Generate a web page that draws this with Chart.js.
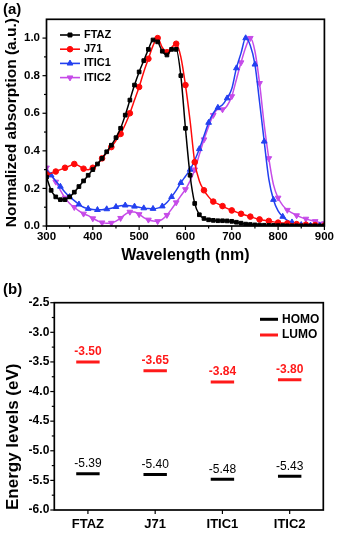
<!DOCTYPE html>
<html>
<head>
<meta charset="utf-8">
<title>Absorption spectra and energy levels</title>
<script src="https://cdn.jsdelivr.net/npm/chart.js@4.4.1/dist/chart.umd.min.js"></script>
<style>
  html, body { margin: 0; padding: 0; background: #fff; }
  body { width: 338px; height: 537px; overflow: hidden; }
  canvas { display: block; }
</style>
</head>
<body>
<canvas id="spectra" width="338" height="270"></canvas>
<canvas id="levels" width="338" height="267"></canvas>
<script>
const FONT = '"Liberation Sans", Arial, sans-serif';
Chart.defaults.font.family = FONT;
Chart.defaults.color = '#000';

// normalized absorption, sampled every 10 nm
const wavelengths = [300, 310, 320, 330, 340, 350, 360, 370, 380, 390,
  400, 410, 420, 430, 440, 450, 460, 470, 480, 490,
  500, 510, 520, 530, 540, 550, 560, 570, 580, 590,
  600, 610, 620, 630, 640, 650, 660, 670, 680, 690,
  700, 710, 720, 730, 740, 750, 760, 770, 780, 790,
  800, 810, 820, 830, 840, 850, 860, 870, 880, 890, 900];
const ftaz = [0.26, 0.19, 0.155, 0.14, 0.14, 0.155, 0.18, 0.21, 0.24, 0.27,
  0.30, 0.33, 0.36, 0.395, 0.43, 0.47, 0.52, 0.59, 0.67, 0.75,
  0.82, 0.88, 0.94, 0.99, 0.98, 0.93, 0.91, 0.94, 0.94, 0.80,
  0.52, 0.27, 0.12, 0.06, 0.04, 0.033, 0.03, 0.028, 0.028, 0.027,
  0.025, 0.02, 0.015, 0.01, 0.008, 0.006, 0.005, 0.004, 0.003, 0.003,
  0.002, 0.002, 0.001, 0.001, 0.001, 0.001, 0.001, 0.001, 0.001, 0.001, 0.001];
const j71 = [0.275, 0.28, 0.29, 0.30, 0.31, 0.32, 0.33, 0.32, 0.305, 0.30,
  0.31, 0.33, 0.36, 0.39, 0.42, 0.455, 0.49, 0.54, 0.60, 0.67,
  0.74, 0.82, 0.89, 0.96, 1.0, 0.95, 0.925, 0.95, 0.97, 0.90,
  0.75, 0.56, 0.34, 0.24, 0.19, 0.155, 0.13, 0.118, 0.106, 0.094,
  0.083, 0.074, 0.065, 0.057, 0.05, 0.042, 0.035, 0.031, 0.027, 0.022,
  0.018, 0.016, 0.014, 0.012, 0.01, 0.009, 0.007, 0.006, 0.005, 0.004, 0.003];
const itic1 = [0.30, 0.27, 0.24, 0.21, 0.18, 0.155, 0.135, 0.115, 0.10, 0.092,
  0.088, 0.086, 0.087, 0.09, 0.095, 0.102, 0.108, 0.11, 0.108, 0.104,
  0.10, 0.095, 0.093, 0.092, 0.095, 0.105, 0.125, 0.155, 0.19, 0.23,
  0.265, 0.30, 0.35, 0.41, 0.48, 0.55, 0.60, 0.63, 0.645, 0.68,
  0.73, 0.84, 0.92, 1.0, 0.96, 0.86, 0.66, 0.45, 0.25, 0.14,
  0.08, 0.05, 0.03, 0.02, 0.012, 0.006, 0.004, 0.003, 0.002, 0.002, 0.002];
const itic2 = [0.31, 0.27, 0.235, 0.19, 0.15, 0.12, 0.10, 0.08, 0.065, 0.055,
  0.04, 0.028, 0.018, 0.014, 0.016, 0.026, 0.042, 0.062, 0.075, 0.074,
  0.062, 0.045, 0.033, 0.027, 0.025, 0.035, 0.058, 0.09, 0.125, 0.16,
  0.195, 0.24, 0.30, 0.38, 0.46, 0.53, 0.59, 0.62, 0.62, 0.64,
  0.69, 0.78, 0.87, 0.95, 1.0, 0.93, 0.76, 0.54, 0.36, 0.22,
  0.15, 0.11, 0.085, 0.07, 0.056, 0.046, 0.038, 0.031, 0.025, 0.019, 0.014];

// frontier orbital energies (eV)
const materials = ['FTAZ', 'J71', 'ITIC1', 'ITIC2'];
const homo = [-5.39, -5.40, -5.48, -5.43];
const lumo = [-3.50, -3.65, -3.84, -3.80];

const toPoints = vals => wavelengths.map((w, i) => ({ x: w, y: vals[i] }));
// markers only on every other sample
const alternate = (first, r) => c => (c.dataIndex % 2 === first ? r : 0);

// closed frame with outward major/minor ticks and the panel letter
const boxAxes = {
  id: 'boxAxes',
  afterDraw(chart, args, opts) {
    const ctx = chart.ctx, a = chart.chartArea;
    ctx.save();
    ctx.strokeStyle = '#000';
    ctx.lineWidth = 1.2;
    const mark = (scale, v, len) => {
      const p = scale.getPixelForValue(v);
      ctx.beginPath();
      if (scale.isHorizontal()) { ctx.moveTo(p, a.bottom); ctx.lineTo(p, a.bottom + len); }
      else { ctx.moveTo(a.left, p); ctx.lineTo(a.left - len, p); }
      ctx.stroke();
    };
    const ticks = (scale, minor) => {
      const vals = scale.ticks.map(t => t.value);
      vals.forEach(v => mark(scale, v, 4));
      if (minor) {
        for (let i = 0; i < vals.length - 1; i++) mark(scale, (vals[i] + vals[i + 1]) / 2, 2.5);
      }
    };
    ticks(chart.scales.x, opts.minorX);
    ticks(chart.scales.y, true);
    ctx.lineWidth = 1.7;
    ctx.strokeRect(a.left, a.top, a.right - a.left, a.bottom - a.top);
    ctx.fillStyle = '#000';
    ctx.font = 'bold 15px ' + FONT;
    ctx.textAlign = 'left';
    ctx.textBaseline = 'middle';
    ctx.fillText(opts.tag, 3, opts.tagY);
    ctx.restore();
  }
};

// key drawn inside the plot box
const seriesKey = {
  id: 'seriesKey',
  afterDraw(chart, args, opts) {
    const ctx = chart.ctx;
    ctx.save();
    ctx.textAlign = 'left';
    ctx.textBaseline = 'middle';
    ctx.font = 'bold ' + opts.size + 'px ' + FONT;
    chart.data.datasets.forEach((ds, i) => {
      const y = opts.top + i * opts.gap;
      const x0 = opts.left, x1 = opts.left + opts.len;
      ctx.strokeStyle = ds.borderColor;
      ctx.fillStyle = ds.borderColor;
      ctx.lineWidth = opts.lineWidth;
      ctx.beginPath();
      ctx.moveTo(x0, y);
      ctx.lineTo(x1, y);
      ctx.stroke();
      if (ds.keyRadius) {
        ctx.lineWidth = 1;
        Chart.helpers.drawPoint(ctx, {
          pointStyle: ds.pointStyle, rotation: ds.pointRotation || 0,
          radius: ds.keyRadius, borderWidth: 1
        }, (x0 + x1) / 2, y);
      }
      ctx.fillStyle = '#000';
      ctx.fillText(ds.label, x1 + 4, y);
    });
    ctx.restore();
  }
};

// numeric value above each level
const levelLabels = {
  id: 'levelLabels',
  afterDatasetsDraw(chart) {
    const ctx = chart.ctx;
    ctx.save();
    ctx.textAlign = 'center';
    ctx.textBaseline = 'middle';
    chart.data.datasets.forEach((ds, i) => {
      ctx.fillStyle = ds.borderColor;
      ctx.font = ds.labelWeight + ' 12px ' + FONT;
      chart.getDatasetMeta(i).data.forEach((pt, j) => {
        ctx.fillText(ds.data[j].toFixed(2), pt.x, pt.y - 10);
      });
    });
    ctx.restore();
  }
};

const bare = { display: false, drawTicks: false };

new Chart(document.getElementById('spectra'), {
  type: 'line',
  data: {
    datasets: [
      { label: 'FTAZ', data: toPoints(ftaz), borderColor: '#000000', backgroundColor: '#000000',
        pointStyle: 'rect', pointRadius: 2.6, keyRadius: 2.8 },
      { label: 'J71', data: toPoints(j71), borderColor: '#FF0A0A', backgroundColor: '#FF0A0A',
        pointStyle: 'circle', pointRadius: alternate(0, 2.8), keyRadius: 2.8 },
      { label: 'ITIC1', data: toPoints(itic1), borderColor: '#2340F0', backgroundColor: '#2340F0',
        pointStyle: 'triangle', pointRadius: alternate(1, 3.3), keyRadius: 3.3 },
      { label: 'ITIC2', data: toPoints(itic2), borderColor: '#C64BE8', backgroundColor: '#C64BE8',
        pointStyle: 'triangle', pointRotation: 180, pointRadius: alternate(0, 3.3), keyRadius: 3.3 }
    ]
  },
  options: {
    responsive: false,
    animation: false,
    events: [],
    layout: { padding: { top: 19.3, right: 13.5, left: 0, bottom: 0 } },
    elements: {
      line: { borderWidth: 1.5, cubicInterpolationMode: 'monotone' },
      point: { borderWidth: 1, hoverRadius: 0 }
    },
    scales: {
      x: {
        type: 'linear', min: 300, max: 900,
        afterFit: s => { s.height = 44; },
        grid: bare, border: { display: false },
        ticks: { stepSize: 100, padding: 4, maxRotation: 0, font: { size: 11.5, weight: 'bold' } },
        title: { display: true, text: 'Wavelength (nm)', font: { size: 16, weight: 'bold' },
                 padding: { top: 0, bottom: 5 } }
      },
      y: {
        min: 0, max: 1.1,
        afterFit: s => { s.width = 46.5; },
        grid: bare, border: { display: false },
        ticks: { stepSize: 0.2, includeBounds: false, padding: 6.5,
                 callback: v => v.toFixed(1), font: { size: 11.5, weight: 'bold' } },
        title: { display: true, text: 'Normalized absorption (a.u.)', font: { size: 15.5, weight: 'bold' },
                 padding: { top: 2, bottom: 0 } }
      }
    },
    plugins: {
      legend: { display: false },
      tooltip: { enabled: false },
      boxAxes: { tag: '(a)', tagY: 10, minorX: true },
      seriesKey: { left: 60, len: 20, top: 35, gap: 14.2, size: 11, lineWidth: 1.6 }
    }
  },
  plugins: [boxAxes, seriesKey]
});

new Chart(document.getElementById('levels'), {
  type: 'line',
  data: {
    labels: materials,
    datasets: [
      { label: 'HOMO', data: homo, borderColor: '#000000', backgroundColor: '#000000',
        showLine: false, labelWeight: 'normal' },
      { label: 'LUMO', data: lumo, borderColor: '#FF1A1A', backgroundColor: '#FF1A1A',
        showLine: false, labelWeight: 'bold' }
    ]
  },
  options: {
    responsive: false,
    animation: false,
    events: [],
    layout: { padding: { top: 32.7, right: 4.7, left: 0, bottom: 0 } },
    elements: {
      point: { pointStyle: 'line', radius: 11.7, hoverRadius: 11.7, borderWidth: 3 }
    },
    scales: {
      x: {
        type: 'category', offset: true,
        afterFit: s => { s.height = 27; },
        grid: bare, border: { display: false },
        ticks: { padding: 7, maxRotation: 0, font: { size: 13, weight: 'bold' } }
      },
      y: {
        min: -6, max: -2.5,
        afterFit: s => { s.width = 54.3; },
        grid: bare, border: { display: false },
        ticks: { stepSize: 0.5, padding: 5, callback: v => v.toFixed(1), font: { size: 12, weight: 'bold' } },
        title: { display: true, text: 'Energy levels (eV)', align: 'start', font: { size: 17, weight: 'bold' },
                 padding: { top: 3, bottom: 0 } }
      }
    },
    plugins: {
      legend: { display: false },
      tooltip: { enabled: false },
      boxAxes: { tag: '(b)', tagY: 20, minorX: false },
      seriesKey: { left: 260, len: 18, top: 49.3, gap: 15.7, size: 12, lineWidth: 3 }
    }
  },
  plugins: [boxAxes, seriesKey, levelLabels]
});
</script>
</body>
</html>
